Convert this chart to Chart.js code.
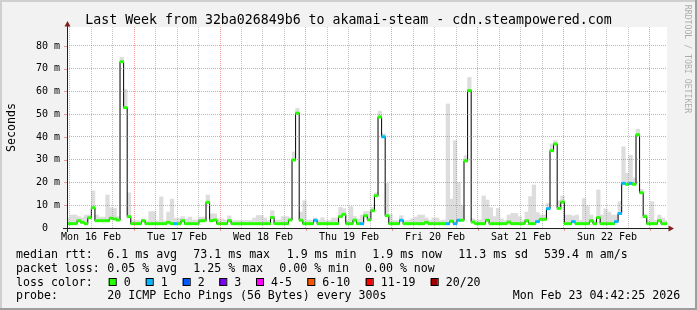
<!DOCTYPE html>
<html lang="en">
<head>
<meta charset="UTF-8">
<title>Last Week - akamai-steam</title>
<script src="https://cdn.jsdelivr.net/npm/chart.js"></script>
<style>
  html, body { margin: 0; padding: 0; background: #f2f2f2; }
  #wrap { width: 697px; height: 310px; }
  canvas { display: block; }
</style>
</head>
<body>
<div id="wrap"><canvas id="smoke" width="697" height="310"></canvas></div>
<script>
// hourly bins, hour 0 = Mon 16 Feb 00:00, first bin starts at 05:00
const firstHour = 5;

// median rtt per hour (ms)
const medianRtt = [
  1.9, 1.9, 1.9, 3.2, 2.5, 1.9, 4.5, 8.9, 3.2, 3.2, 3.2, 3.2, 4.3, 4.0, 3.5, 73.1, 52.9, 5.0, 1.9,
  1.9, 1.9, 3.2, 1.9, 1.9, 1.9, 1.9, 1.9, 1.9, 2.5, 1.9, 1.9, 1.9, 3.2, 1.9, 1.9, 1.9, 1.9, 3.2, 3.2, 11.3, 3.2, 3.5, 1.9,
  1.9, 1.9, 3.2, 1.9, 1.9, 1.9, 1.9, 1.9, 1.9, 1.9, 1.9, 1.9, 1.9, 1.9, 4.6, 1.9, 1.9, 1.9, 1.9, 3.5, 29.9, 50.5, 3.4, 1.9,
  1.9, 1.9, 3.4, 1.9, 1.9, 1.9, 1.9, 1.9, 1.9, 5.0, 6.0, 1.9, 1.9, 3.4, 1.9, 1.9, 5.4, 3.6, 7.6, 14.2, 48.8, 40.1, 5.4, 1.9,
  1.9, 1.9, 3.4, 1.9, 1.9, 1.9, 1.9, 1.9, 1.9, 2.5, 1.9, 1.9, 1.9, 1.9, 1.9, 1.9, 3.0, 1.9, 3.4, 3.4, 29.5, 60.4, 2.6, 1.9,
  1.9, 1.9, 3.4, 1.9, 1.9, 1.9, 1.9, 1.9, 2.6, 1.9, 1.9, 1.9, 1.9, 3.2, 1.9, 1.9, 2.8, 3.8, 3.8, 8.5, 34.0, 36.9, 8.6, 11.4,
  1.9, 1.9, 2.8, 1.9, 1.9, 1.9, 1.9, 3.2, 1.9, 4.6, 1.9, 1.9, 1.9, 1.9, 2.8, 6.4, 19.6, 19.2, 19.6, 19.2, 41.0, 15.5, 5.0, 1.9,
  1.9, 1.9, 3.2, 1.9, 1.9
];

// top of the smoke (slowest ping) per hour (ms)
const smokeTop = [
  4.4, 5.7, 5.7, 5.0, 4.5, 5.7, 5.7, 16.3, 5.7, 4.8, 4.8, 14.5, 8.9, 8.6, 5.0, 75.0, 61.0, 15.5, 3.5,
  3.2, 3.2, 4.0, 3.2, 7.2, 7.2, 3.2, 13.7, 3.2, 7.0, 12.7, 4.2, 4.2, 5.0, 4.0, 4.8, 3.5, 3.5, 4.8, 4.8, 14.5, 6.2, 6.2, 4.0,
  4.0, 3.5, 5.3, 3.3, 3.3, 3.3, 3.3, 3.3, 3.3, 4.4, 5.5, 5.5, 4.4, 3.3, 7.6, 3.5, 3.5, 5.0, 5.0, 4.5, 33.4, 52.6, 7.0, 12.0,
  3.5, 3.5, 4.4, 3.3, 4.5, 3.3, 3.3, 4.4, 4.4, 9.1, 8.5, 3.3, 9.4, 5.0, 4.0, 5.7, 7.2, 7.2, 9.0, 15.5, 51.4, 41.5, 19.6, 6.0,
  3.3, 3.3, 5.4, 3.3, 3.3, 4.0, 4.8, 5.7, 5.7, 4.4, 3.3, 4.4, 4.4, 3.3, 3.5, 54.5, 12.7, 38.4, 19.8, 10.0, 31.8, 66.2, 4.0, 3.3,
  3.5, 14.1, 12.3, 8.9, 5.0, 8.6, 4.0, 3.3, 5.7, 6.4, 6.4, 5.0, 3.3, 7.0, 13.8, 18.9, 6.8, 5.7, 5.7, 10.8, 37.0, 38.4, 12.0, 14.1,
  5.7, 5.7, 5.3, 5.7, 3.3, 13.0, 9.7, 5.7, 3.3, 16.7, 5.7, 8.4, 7.0, 5.7, 5.7, 11.6, 35.7, 24.0, 32.0, 22.0, 43.4, 17.0, 6.0, 3.3,
  11.6, 3.3, 5.7, 4.4, 3.3
];

// lost pings (of 20) per hour
const lostPings = [
  0, 0, 0, 0, 0, 0, 0, 0, 0, 0, 0, 0, 0, 0, 0, 0, 0, 0, 0,
  0, 0, 0, 0, 0, 0, 0, 0, 0, 0, 0, 1, 0, 0, 0, 0, 0, 0, 0, 0, 0, 0, 0, 0,
  0, 0, 0, 0, 0, 0, 0, 0, 0, 0, 0, 0, 0, 0, 0, 0, 0, 0, 0, 0, 0, 0, 0, 0,
  0, 0, 1, 0, 0, 0, 0, 0, 0, 0, 0, 0, 0, 0, 0, 1, 0, 0, 0, 0, 0, 1, 0, 0,
  0, 0, 1, 0, 0, 0, 0, 0, 0, 0, 0, 0, 0, 0, 0, 1, 0, 1, 1, 0, 0, 0, 0, 0,
  0, 0, 0, 0, 0, 0, 0, 0, 0, 0, 0, 0, 0, 0, 0, 0, 1, 0, 0, 1, 0, 0, 0, 0,
  0, 0, 1, 0, 0, 0, 0, 0, 0, 0, 0, 0, 0, 0, 1, 1, 1, 0, 1, 0, 0, 0, 0, 0,
  0, 0, 0, 0, 0
];

const dayLabels = ['Mon 16 Feb', 'Tue 17 Feb', 'Wed 18 Feb', 'Thu 19 Feb', 'Fri 20 Feb', 'Sat 21 Feb', 'Sun 22 Feb'];
const yTickValues = [0, 5, 10, 15, 20, 25, 30, 35, 40, 45, 50, 55, 60, 65, 70, 75, 80, 85];
const lossLabels = ['0', '1', '2', '3', '4-5', '6-10', '11-19', '20/20'];
const lossLimits = [0, 1, 2, 3, 5, 10, 19, 20];
const lossColors = ['#26ff00', '#00b8ff', '#0059ff', '#7e00ff', '#ff00ff', '#ff5500', '#ff0000', '#a10000'];

const titleText = 'Last Week from 32ba026849b6 to akamai-steam - cdn.steampowered.com';
const rttStats = ['median rtt:', '6.1 ms avg', '73.1 ms max', '1.9 ms min', '1.9 ms now', '11.3 ms sd', '539.4 m am/s'];
const lossStats = ['packet loss:', '0.05 % avg', '1.25 % max', '0.00 % min', '0.00 % now'];
const probeText = ['probe:', '20 ICMP Echo Pings (56 Bytes) every 300s', 'Mon Feb 23 04:42:25 2026'];

const GRID = 'rgba(143,143,143,0.55)';
const MGRID = 'rgba(222,79,79,0.55)';
const MONO = '"DejaVu Sans Mono", monospace';

function lossColor(n) {
  for (let i = 0; i < lossLimits.length; i++) {
    if (n <= lossLimits[i]) return lossColors[i];
  }
  return lossColors[lossColors.length - 1];
}

const xTickValues = [];
for (let h = 6; h <= 168; h += 6) xTickValues.push(h);

const binX = i => firstHour + i + 0.6;
const smokeData = medianRtt.map((m, i) => ({ x: binX(i), y: [m, smokeTop[i]] }));
const lineData = medianRtt.map((m, i) => ({ x: binX(i), y: m }));
const markData = medianRtt.map((m, i) => ({ x: binX(i), y: [m - 0.5, m + 0.5] }));

const rrdLook = {
  id: 'rrdLook',
  beforeDraw(chart) {
    const { ctx, width, height, chartArea: a } = chart;
    ctx.save();
    ctx.fillStyle = '#f2f2f2';
    ctx.fillRect(0, 0, width, height);
    ctx.fillStyle = '#cfcfcf';
    ctx.fillRect(0, 0, width, 2);
    ctx.fillRect(0, 0, 2, height);
    ctx.fillStyle = '#9e9e9e';
    ctx.fillRect(0, height - 2, width, 2);
    ctx.fillRect(width - 2, 0, 2, height);
    ctx.fillStyle = '#ffffff';
    ctx.fillRect(a.left, a.top, a.right - a.left, a.bottom - a.top);
    ctx.restore();
  },
  afterDraw(chart) {
    const { ctx, chartArea: a, scales } = chart;
    ctx.save();

    // little major ticks outside the axes
    ctx.strokeStyle = MGRID;
    ctx.lineWidth = 1;
    yTickValues.filter(v => v > 0 && v % 10 === 0).forEach(v => {
      const y = Math.round(scales.y.getPixelForValue(v)) + 0.5;
      ctx.beginPath(); ctx.moveTo(a.left - 3, y); ctx.lineTo(a.left, y); ctx.stroke();
    });
    xTickValues.filter(v => v % 24 === 0).forEach(v => {
      const x = Math.round(scales.x.getPixelForValue(v)) + 0.5;
      ctx.beginPath(); ctx.moveTo(x, a.bottom); ctx.lineTo(x, a.bottom + 3); ctx.stroke();
    });

    // axes
    ctx.strokeStyle = '#1f1f1f';
    ctx.beginPath();
    ctx.moveTo(a.left - 4, a.bottom + 0.5);
    ctx.lineTo(a.right + 2, a.bottom + 0.5);
    ctx.moveTo(a.left + 0.5, a.bottom + 4);
    ctx.lineTo(a.left + 0.5, a.top - 1);
    ctx.stroke();
    ctx.fillStyle = '#801f1f';
    ctx.beginPath();
    ctx.moveTo(a.left + 0.5, a.top - 6);
    ctx.lineTo(a.left - 2.5, a.top - 0.5);
    ctx.lineTo(a.left + 3.5, a.top - 0.5);
    ctx.closePath(); ctx.fill();
    ctx.beginPath();
    ctx.moveTo(a.right + 7, a.bottom + 0.5);
    ctx.lineTo(a.right + 1.5, a.bottom - 2.5);
    ctx.lineTo(a.right + 1.5, a.bottom + 3.5);
    ctx.closePath(); ctx.fill();

    // title
    ctx.fillStyle = '#000';
    ctx.textBaseline = 'alphabetic';
    ctx.textAlign = 'center';
    ctx.font = '13.25px ' + MONO;
    ctx.fillText(titleText, 348.5, 24);

    // vertical axis label
    ctx.font = '11.6px ' + MONO;
    ctx.save();
    ctx.translate(14.5, 127.5);
    ctx.rotate(-Math.PI / 2);
    ctx.fillText('Seconds', 0, 0);
    ctx.restore();

    // watermark
    ctx.save();
    ctx.fillStyle = 'rgba(0,0,0,0.3)';
    ctx.font = '8.2px ' + MONO;
    ctx.translate(684.5, 59);
    ctx.rotate(Math.PI / 2);
    ctx.fillText('RRDTOOL / TOBI OETIKER', 0, 0);
    ctx.restore();

    // legend block
    ctx.textAlign = 'left';
    ctx.font = '11.6px ' + MONO;
    const rowY = [258.3, 272, 285.7, 299.4];
    const rttX = [16, 107.3, 193.3, 286.7, 372.3, 458.3, 544];
    rttStats.forEach((t, i) => ctx.fillText(t, rttX[i], rowY[0]));
    const lossX = [16, 107.3, 193.3, 279.3, 365];
    lossStats.forEach((t, i) => ctx.fillText(t, lossX[i], rowY[1]));
    ctx.fillText('loss color:', 16, rowY[2]);
    const boxX = [108.7, 145.7, 182.7, 219.3, 256, 307.3, 365.7, 430.7];
    lossLabels.forEach((t, i) => {
      ctx.fillStyle = lossColors[i];
      ctx.fillRect(boxX[i], 278.5, 7, 7);
      ctx.strokeStyle = '#000';
      ctx.strokeRect(boxX[i] + 0.5, 278.5, 7, 7);
      ctx.fillStyle = '#000';
      ctx.fillText(t, boxX[i] + 15, rowY[2]);
    });
    const probeX = [16, 107.3, 512.7];
    probeText.forEach((t, i) => ctx.fillText(t, probeX[i], rowY[3]));
    ctx.restore();
  }
};

new Chart(document.getElementById('smoke'), {
  type: 'bar',
  data: {
    datasets: [
      {
        type: 'bar', label: 'loss', data: markData, order: 1, grouped: false,
        barPercentage: 1, categoryPercentage: 1, borderWidth: 0,
        backgroundColor: c => lossColor(lostPings[c.dataIndex])
      },
      {
        type: 'line', label: 'median', data: lineData, order: 2,
        borderColor: '#000000', borderWidth: 1, pointRadius: 0, stepped: 'middle'
      },
      {
        type: 'bar', label: 'smoke', data: smokeData, order: 3, grouped: false,
        barPercentage: 1, categoryPercentage: 1, borderWidth: 0,
        backgroundColor: '#dddddd'
      }
    ]
  },
  options: {
    responsive: false,
    animation: false,
    devicePixelRatio: 1,
    layout: { padding: { left: 0, top: 27, right: 30, bottom: 0 } },
    plugins: { legend: { display: false }, tooltip: { enabled: false } },
    scales: {
      x: {
        type: 'linear', min: 5.3, max: 172.75, offset: false,
        afterBuildTicks: s => { s.ticks = xTickValues.map(v => ({ value: v })); },
        afterFit: s => { s.height = 82; },
        grid: {
          z: 1, drawTicks: false, offset: false,
          color: c => c.tick.value % 24 === 0 ? MGRID : GRID
        },
        border: { display: false, dash: [1, 1] },
        ticks: {
          autoSkip: false, maxRotation: 0, padding: 3.5, color: '#000',
          font: { family: MONO, size: 10 },
          callback: v => v % 24 === 12 ? dayLabels[(v - 12) / 24] : ''
        }
      },
      y: {
        type: 'linear', min: 0, max: 88.35,
        afterBuildTicks: s => { s.ticks = yTickValues.map(v => ({ value: v })); },
        afterFit: s => { s.width = 67; },
        grid: {
          z: 1, drawTicks: false,
          color: c => c.tick.value === 0 ? 'rgba(0,0,0,0)' : (c.tick.value % 10 === 0 ? MGRID : GRID)
        },
        border: { display: false, dash: [1, 1] },
        ticks: {
          padding: 7, color: '#000',
          font: { family: MONO, size: 10 },
          callback: v => v % 10 === 0 ? (v === 0 ? '0  ' : v + ' m') : ''
        }
      }
    }
  },
  plugins: [rrdLook]
});
</script>
</body>
</html>
